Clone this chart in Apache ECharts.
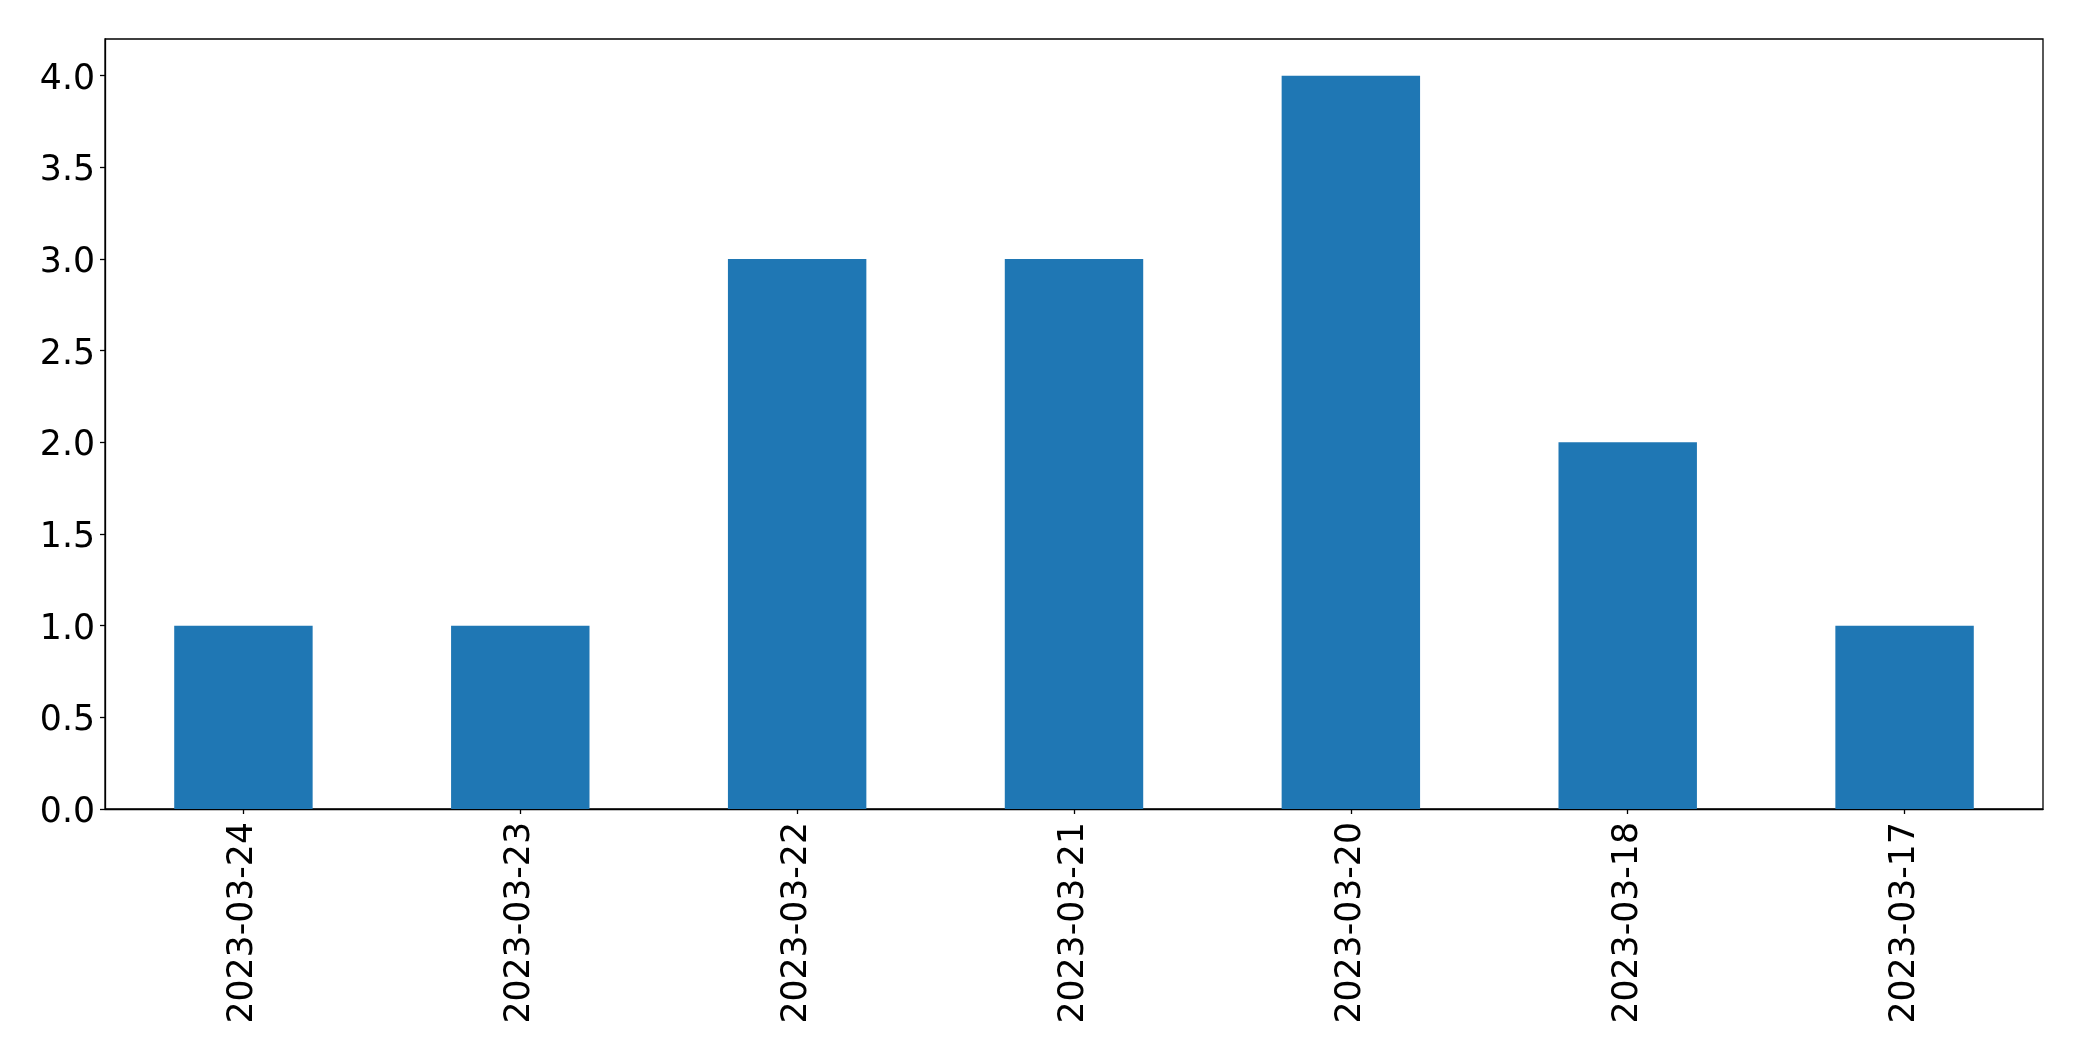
<!DOCTYPE html>
<html>
<head>
<meta charset="utf-8">
<script src="https://cdn.jsdelivr.net/npm/echarts@6/dist/echarts.min.js"></script>
<style>html,body{margin:0;padding:0;background:#fff}#c{width:2082px;height:1061px}</style>
</head>
<body>
<div id="c"></div>
<script>
const categories = ["2023-03-24","2023-03-23","2023-03-22","2023-03-21","2023-03-20","2023-03-18","2023-03-17"];
const counts = [1, 1, 3, 3, 4, 2, 1];

const chart = echarts.init(document.getElementById('c'), null, {renderer: 'canvas'});
const font = "DejaVu Sans";
chart.setOption({
  animation: false,
  backgroundColor: '#fff',
  grid: {left: 105, top: 39, right: 39, bottom: 252, show: true, borderColor: '#000', borderWidth: 1.3, containLabel: false},
  xAxis: {
    type: 'category',
    data: categories,
    boundaryGap: true,
    axisLine: {show: true, lineStyle: {color: '#000', width: 1.3}},
    axisTick: {show: true, alignWithLabel: true, length: 5, lineStyle: {color: '#000', width: 1.3}},
    axisLabel: {rotate: 90, fontSize: 34.7, fontFamily: font, color: '#000', margin: 13, interval: 0},
    splitLine: {show: false}
  },
  yAxis: {
    type: 'value',
    min: 0, max: 4.2, interval: 0.5,
    axisLine: {show: true, lineStyle: {color: '#000', width: 1.3}},
    axisTick: {show: true, length: 5, lineStyle: {color: '#000', width: 1.3}},
    axisLabel: {fontSize: 34.7, fontFamily: font, color: '#000', margin: 10, showMaxLabel: false,
      formatter: v => '{a|' + v.toFixed(1) + '}',
      rich: {a: {fontSize: 34.7, fontFamily: font, color: '#000', padding: [8, 0, 0, 0]}}},
    splitLine: {show: false}
  },
  series: [{
    type: 'bar',
    data: counts,
    barWidth: '50%',
    itemStyle: {color: '#1f77b4'}
  }]
});
</script>
</body>
</html>
